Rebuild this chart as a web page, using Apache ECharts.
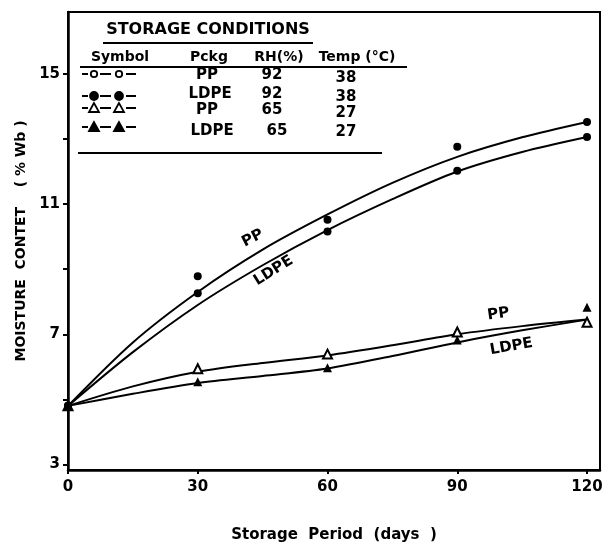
<!DOCTYPE html>
<html>
<head>
<meta charset="utf-8">
<script src="https://cdn.jsdelivr.net/npm/echarts@6/dist/echarts.min.js"></script>
<style>
html,body{margin:0;padding:0;background:#fff;}
#chart{width:614px;height:548px;}
</style>
</head>
<body>
<div id="chart"></div>
<script>
// ---- data ----
var days = [0, 30, 60, 90, 120];
var xTicks = [0, 30, 60, 90, 120];
var yTicks = [3, 5, 7, 9, 11, 13, 15];
var yLabels = [3, 7, 11, 15];

// measured points
var pp92 = [4.8, 8.78, 10.52, 12.76, 13.52];
var ldpe92 = [4.8, 8.26, 10.16, 12.02, 13.06];
var pp65 = [4.8, 5.94, 6.39, 7.07, 7.37];
var ldpe65 = [4.8, 5.54, 5.97, 6.82, 7.83];

// fitted curves
var fitDays = [0, 15, 30, 45, 60, 75, 90, 105, 120];
var pp92Fit = [4.8, 6.75, 8.3, 9.6, 10.68, 11.65, 12.45, 13.05, 13.52];
var ldpe92Fit = [4.8, 6.45, 7.9, 9.12, 10.2, 11.15, 12.0, 12.6, 13.06];
var pp65Fit = [4.8, 5.4, 5.85, 6.12, 6.35, 6.66, 7.0, 7.25, 7.45];
var ldpe65Fit = [4.8, 5.17, 5.5, 5.72, 5.95, 6.33, 6.75, 7.12, 7.45];

// legend table text
var tableTitle = 'STORAGE CONDITIONS';
var tableHeader = ['Symbol', 'Pckg', 'RH(%)', 'Temp (\u00B0C)'];
var tablePckg = ['PP', 'LDPE', 'PP', 'LDPE'];
var tableRH = ['92', '92', '65', '65'];
var tableTemp = ['38', '38', '27', '27'];

// curve labels: [text, x(days), y(value), rotation deg]
var curveLabels = [
  ['PP', 42.7, 9.95, 27],
  ['LDPE', 47.5, 8.95, 32],
  ['PP', 99.5, 7.62, 8],
  ['LDPE', 102.5, 6.62, 10]
];

var FONT = 'DejaVu Sans';
function pairs(xs, ys) { return xs.map(function (x, i) { return [x, ys[i]]; }); }

var chart = echarts.init(document.getElementById('chart'), null, {renderer: 'canvas'});

function lineSeries(data) {
  return {
    type: 'line', data: pairs(fitDays, data), smooth: 0.3, showSymbol: false, symbol: 'none',
    lineStyle: {color: '#000', width: 2, opacity: 1}, z: 3, silent: true
  };
}
function scatterSeries(data, symbol, filled, size) {
  return {
    type: 'scatter', data: pairs(days, data), symbol: symbol, symbolSize: size,
    itemStyle: {color: filled ? '#000' : '#fff', borderColor: '#000', borderWidth: filled ? 0 : 2, opacity: 1},
    z: 4, silent: true
  };
}

var option = {
  backgroundColor: '#fff',
  animation: false,
  grid: {left: 68, right: 14, top: 12, bottom: 76, show: true, borderColor: '#000', borderWidth: 2, backgroundColor: 'transparent'},
  xAxis: {
    type: 'value', min: 0, max: 123,
    axisLine: {show: true, lineStyle: {color: '#000', width: 2.5}},
    axisTick: {show: true, length: 4, lineStyle: {color: '#000', width: 2}, customValues: xTicks},
    axisLabel: {customValues: xTicks, color: '#000', fontFamily: FONT, fontWeight: 'bold', fontSize: 15, margin: 10},
    splitLine: {show: false},
    name: 'Storage  Period  (days  )', nameLocation: 'middle', nameGap: 58,
    nameTextStyle: {color: '#000', fontFamily: FONT, fontWeight: 'bold', fontSize: 15}
  },
  yAxis: {
    type: 'value', min: 2.83, max: 16.9,
    axisLine: {show: true, lineStyle: {color: '#000', width: 2.5}},
    axisTick: {show: true, length: 5, lineStyle: {color: '#000', width: 2}, customValues: yTicks},
    axisLabel: {customValues: yLabels, color: '#000', fontFamily: FONT, fontWeight: 'bold', fontSize: 15, margin: 8},
    splitLine: {show: false},
    name: 'MOISTURE  CONTET    ( % Wb )', nameLocation: 'middle', nameGap: 40, nameRotate: 90,
    nameTextStyle: {color: '#000', fontFamily: FONT, fontWeight: 'bold', fontSize: 14}
  },
  series: [
    lineSeries(pp92Fit), lineSeries(ldpe92Fit), lineSeries(pp65Fit), lineSeries(ldpe65Fit),
    scatterSeries(pp92, 'circle', true, 8),
    scatterSeries(ldpe92, 'circle', true, 8),
    scatterSeries(pp65, 'triangle', false, 9),
    scatterSeries(ldpe65, 'triangle', true, 9)
  ]
};
chart.setOption(option);

// ---- annotation graphics ----
var g = [];
function txt(text, x, y, size, align) {
  g.push({type: 'text', x: x, y: y, silent: true, z: 10,
    style: {text: text, fill: '#000', font: 'bold ' + (size || 15) + 'px "' + FONT + '"', align: align || 'center', verticalAlign: 'middle'}});
}
function hline(x1, x2, y, w) {
  g.push({type: 'line', silent: true, z: 10, shape: {x1: x1, y1: y, x2: x2, y2: y}, style: {stroke: '#000', lineWidth: w || 2}});
}
// table
txt(tableTitle, 208, 30, 16);
hline(103, 313, 43, 2);
var hx = [120, 209, 279, 357];
tableHeader.forEach(function (t, i) { txt(t, hx[i], 57, 14); });
hline(80, 407, 67, 2);
var rowY = [75, 94, 110, 131];
var tempY = [78, 97, 113, 132];
var pX = [207, 210, 207, 212];
var rhX = [272, 272, 272, 277];
for (var i = 0; i < 4; i++) {
  txt(tablePckg[i], pX[i], rowY[i], 15);
  txt(tableRH[i], rhX[i], rowY[i], 15);
  txt(tableTemp[i], 346, tempY[i], 15);
}
hline(78, 382, 153, 2);
// legend symbols
var symY = [74, 96, 108, 127];
var symKinds = ['ocircle', 'fcircle', 'otri', 'ftri'];
for (var r = 0; r < 4; r++) {
  var y = symY[r];
  [[82, 88], [100, 111], [126, 136]].forEach(function (s) { hline(s[0], s[1], y, 2); });
  [94, 119].forEach(function (cx) {
    var k = symKinds[r];
    if (k === 'ocircle' || k === 'fcircle') {
      g.push({type: 'circle', silent: true, z: 11, shape: {cx: cx, cy: y, r: k === 'fcircle' ? 4 : 3.2},
        style: {fill: k === 'fcircle' ? '#000' : '#fff', stroke: '#000', lineWidth: 1.8}});
    } else {
      g.push({type: 'polygon', silent: true, z: 11, shape: {points: [[cx, y - 5], [cx - 5, y + 4], [cx + 5, y + 4]]},
        style: {fill: k === 'ftri' ? '#000' : '#fff', stroke: '#000', lineWidth: 1.8}});
    }
  });
}
// curve labels
curveLabels.forEach(function (c) {
  var p = chart.convertToPixel({gridIndex: 0}, [c[1], c[2]]);
  g.push({type: 'text', x: p[0], y: p[1], rotation: c[3] * Math.PI / 180, silent: true, z: 10,
    style: {text: c[0], fill: '#000', font: 'bold 15px "' + FONT + '"', align: 'center', verticalAlign: 'middle'}});
});
chart.setOption({graphic: {elements: g}});
</script>
</body>
</html>
